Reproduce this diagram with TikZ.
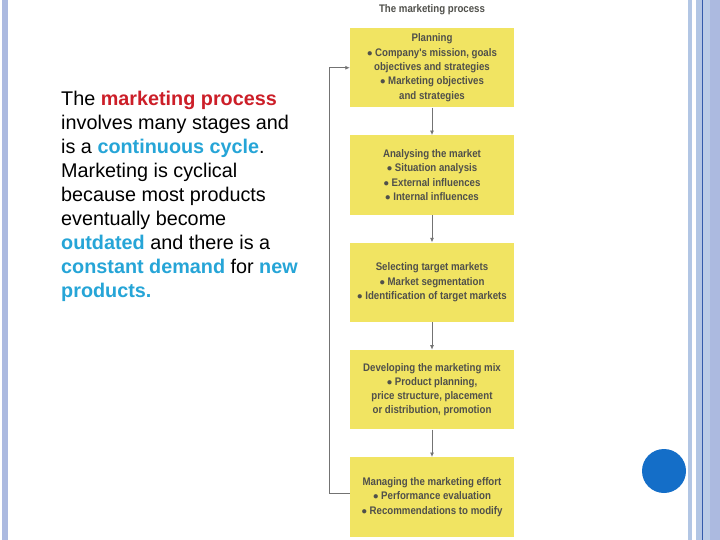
\documentclass[tikz,border=0pt]{standalone}
\usepackage{fontspec}
\setmainfont{Liberation Sans}
\newfontfamily\condfont[FakeStretch=0.88]{Liberation Sans}
\usepackage{xcolor}
\usetikzlibrary{
  arrows.meta,
  positioning
}
\definecolor{stagefill}{RGB}{241,228,98}
\definecolor{stagetext}{RGB}{80,80,75}
\definecolor{linkgray}{RGB}{115,115,115}
\definecolor{keyred}{RGB}{204,30,40}
\definecolor{keyblue}{RGB}{38,165,215}
\definecolor{barblue}{RGB}{172,186,224}
\definecolor{barlight}{RGB}{178,198,228}
\definecolor{bardark}{RGB}{50,90,170}
\definecolor{dotblue}{RGB}{20,110,200}

\tikzset{
  stage/.style={
    fill=stagefill,
    minimum width=164pt,
    minimum height=79.5pt,
    inner sep=2pt,
    align=center,
    text=stagetext,
    font=\condfont\bfseries\fontsize{11}{14.3}\selectfont
  },
  link/.style={
    draw=linkgray,
    line width=0.8pt,
    -{Latex[length=4.5pt,width=4pt]}
  }
}

\begin{document}
\begin{tikzpicture}[
    x=1pt,
    y=-1pt,
    node distance=27.4pt
    ]

    % rahmen
    \useasboundingbox (0,0) rectangle (720,540);
    \fill[white] (0,0) rectangle (720,540);
    \fill[barblue] (2,0) rectangle (8,540);
    \fill[barlight] (688,0) rectangle (692,540);
    \fill[barlight] (696,0) rectangle (702,540);
    \fill[bardark] (702,0) rectangle (703.2,540);
    \fill[barlight!90!white] (703.2,0) rectangle (710,540);
    \fill[barblue] (710,0) rectangle (720,540);
    \fill[dotblue] (664,471) circle (22);

    % text links
    \node[anchor=north west,inner sep=0pt,align=left,
      font=\fontsize{19.8}{24}\selectfont] (intro) at (61,91)
    {The \textcolor{keyred}{\bfseries marketing process}\\
    involves many stages and\\
    is a \textcolor{keyblue}{\bfseries continuous cycle}.\\
    Marketing is cyclical\\
    because most products\\
    eventually become\\
    \textcolor{keyblue}{\bfseries outdated} and there is a\\
    \textcolor{keyblue}{\bfseries constant demand} for \textcolor{keyblue}{\bfseries new}\\
    \textcolor{keyblue}{\bfseries products.}};

    % ablauf
    \node[text=stagetext,font=\condfont\bfseries\fontsize{11}{12}\selectfont]
    (title) at (432,10) {The marketing process};

    \node[stage] (plan) at (432,67.75)
    {Planning\\
    $\bullet$ Company's mission, goals\\
    objectives and strategies\\
    $\bullet$ Marketing objectives\\
    and strategies};

    \node[stage,below=of plan] (analyse)
    {Analysing the market\\
    $\bullet$ Situation analysis\\
    $\bullet$ External influences\\
    $\bullet$ Internal influences};

    \node[stage,below=of analyse] (select)
    {Selecting target markets\\
    $\bullet$ Market segmentation\\
    $\bullet$ Identification of target markets};

    \node[stage,below=of select] (develop)
    {Developing the marketing mix\\
    $\bullet$ Product planning,\\
    price structure, placement\\
    or distribution, promotion};

    \node[stage,below=of develop] (manage)
    {Managing the marketing effort\\
    $\bullet$ Performance evaluation\\
    $\bullet$ Recommendations to modify};

    % pfeile
    \draw[link] (plan) -- (analyse);
    \draw[link] (analyse) -- (select);
    \draw[link] (select) -- (develop);
    \draw[link] (develop) -- (manage);
    \draw[link] ([yshift=4pt]manage.west) -- ++(-20,0) |- (plan.west);

\end{tikzpicture}
\end{document}
